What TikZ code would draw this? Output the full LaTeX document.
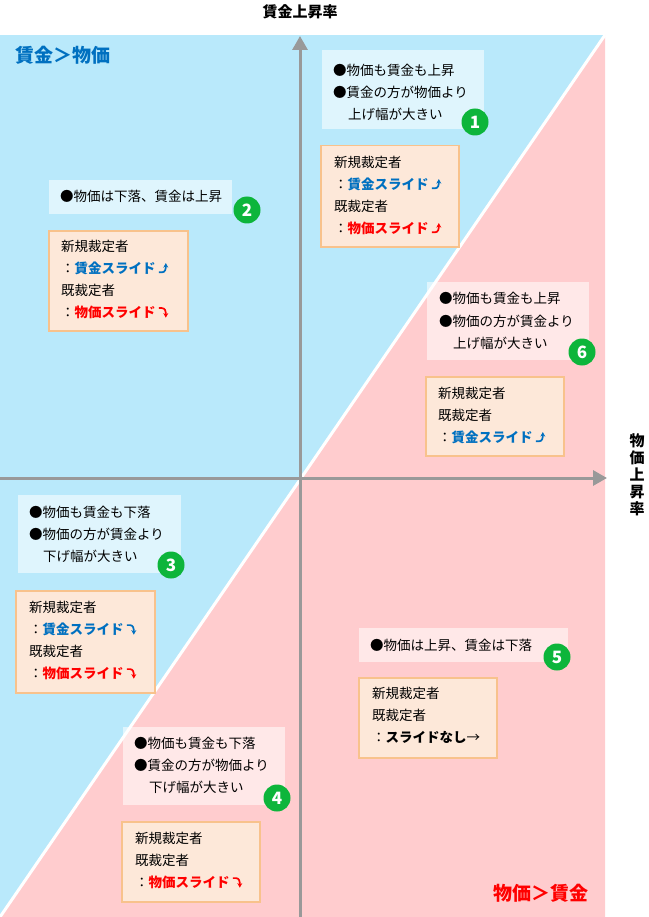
\documentclass[tikz,border=0pt]{standalone}
\usepackage{fontspec}
\setmainfont{Noto Sans CJK JP}
\usetikzlibrary{arrows.meta}
\definecolor{bgblue}{HTML}{B9E9FB}
\definecolor{bgpink}{HTML}{FFCCCE}
\definecolor{obox}{HTML}{FDE8D9}
\definecolor{oborder}{HTML}{F8C28C}
\definecolor{tblue}{HTML}{0070C0}
\definecolor{tred}{HTML}{FF0000}
\definecolor{gcirc}{HTML}{0DB53B}
\definecolor{axisg}{HTML}{999999}
\newcommand{\up}{\,\tikz[baseline=0pt,x=1pt,y=1pt]\draw[line width=1.7pt,-{Stealth[length=4.5pt,width=5pt]}] (0,0.8) -- (3,0.8) .. controls (6.5,0.8) and (7,4) .. (7,10);}
\newcommand{\dn}{\,\tikz[baseline=0pt,x=1pt,y=1pt]\draw[line width=1.7pt,-{Stealth[length=4.5pt,width=5pt]}] (0,9) -- (3,9) .. controls (6.5,9) and (7,6) .. (7,-0.5);}
\newcommand{\bl}[1]{\textcolor{tblue}{\textbf{#1}}}
\newcommand{\rd}[1]{\textcolor{tred}{\textbf{#1}}}
\tikzset{
 txtbox/.style={fill=white,fill opacity=0.55,inner sep=0,anchor=north west},
 obx/.style={fill=obox,draw=oborder,line width=1.5pt,inner sep=0,anchor=north west},
 ln/.style={anchor=west,inner sep=0,font=\fontsize{13.5}{13.5}\selectfont},
 num/.style={circle,fill=gcirc,text=white,inner sep=0,minimum size=27,font=\fontsize{17}{17}\selectfont\bfseries},
 axis/.style={draw=axisg,line width=3pt,-{Triangle[length=14pt,width=15pt]}}
}
\begin{document}
\begin{tikzpicture}[x=1pt,y=-1pt]
\useasboundingbox (0,0) rectangle (648,917);
\fill[bgblue] (0,35) rectangle (605,917);
\fill[bgpink] (605,35) -- (605,917) -- (0,917) -- cycle;
\draw[white,line width=3pt] (605,35) -- (0,917);
% axes
\coordinate (yb) at (300,917); \coordinate (yt) at (300,36);
\coordinate (xl) at (0,478); \coordinate (xr) at (607,478);
\draw[axis] (yb) -- (yt);
\draw[axis] (xl) -- (xr);
\node[font=\fontsize{15}{15}\selectfont\bfseries] (ylab) at (300,12) {賃金上昇率};
\node[font=\fontsize{15}{17}\selectfont\bfseries,align=center] (xlab) at (637,475) {物\\価\\上\\昇\\率};
\node[font=\fontsize{19}{19}\selectfont\bfseries,text=tblue,anchor=west] (q1) at (12,55) {賃金＞物価};
\node[font=\fontsize{19}{19}\selectfont\bfseries,text=tred,anchor=east] (q2) at (592,893) {物価＞賃金};
% box 1
\node[txtbox,minimum width=162,minimum height=79] (b1) at (322,50) {};
\node[ln] (b1a) at (333,70) {●物価も賃金も上昇};
\node[ln] (b1b) at (333,92) {●賃金の方が物価より};
\node[ln] (b1c) at (348,114) {上げ幅が大きい};
\node[num] (n1) at (475,122) {1};
\node[obx,minimum width=138,minimum height=101] (o1) at (320,145) {};
\node[ln] (o1a) at (334,162) {新規裁定者};
\node[ln] (o1b) at (334,184) {：\bl{賃金スライド}\textcolor{tblue}{\up}};
\node[ln] (o1c) at (334,206) {既裁定者};
\node[ln] (o1d) at (334,228) {：\rd{物価スライド}\textcolor{tred}{\up}};
% box 2
\node[txtbox,minimum width=183,minimum height=34] (b2) at (49,180) {};
\node[ln] (b2a) at (60,196) {●物価は下落、賃金は上昇};
\node[num] (n2) at (247,210) {2};
\node[obx,minimum width=139,minimum height=100] (o2) at (48,230) {};
\node[ln] (o2a) at (61,246) {新規裁定者};
\node[ln] (o2b) at (61,268) {：\bl{賃金スライド}\textcolor{tblue}{\up}};
\node[ln] (o2c) at (61,290) {既裁定者};
\node[ln] (o2d) at (61,312) {：\rd{物価スライド}\textcolor{tred}{\dn}};
% box 6
\node[txtbox,minimum width=162,minimum height=78] (b6) at (427,282) {};
\node[ln] (b6a) at (439,298) {●物価も賃金も上昇};
\node[ln] (b6b) at (439,321) {●物価の方が賃金より};
\node[ln] (b6c) at (453,343) {上げ幅が大きい};
\node[num] (n6) at (582,352) {6};
\node[obx,minimum width=138,minimum height=79] (o6) at (425,376) {};
\node[ln] (o6a) at (438,393) {新規裁定者};
\node[ln] (o6b) at (438,415) {既裁定者};
\node[ln] (o6c) at (438,437) {：\bl{賃金スライド}\textcolor{tblue}{\up}};
% box 3
\node[txtbox,minimum width=163,minimum height=78] (b3) at (18,495) {};
\node[ln] (b3a) at (29,512) {●物価も賃金も下落};
\node[ln] (b3b) at (29,534) {●物価の方が賃金より};
\node[ln] (b3c) at (43,556) {下げ幅が大きい};
\node[num] (n3) at (171,565) {3};
\node[obx,minimum width=139,minimum height=102] (o3) at (15,590) {};
\node[ln] (o3a) at (29,607) {新規裁定者};
\node[ln] (o3b) at (29,629) {：\bl{賃金スライド}\textcolor{tblue}{\dn}};
\node[ln] (o3c) at (29,651) {既裁定者};
\node[ln] (o3d) at (29,673) {：\rd{物価スライド}\textcolor{tred}{\dn}};
% box 5
\node[txtbox,minimum width=209,minimum height=34] (b5) at (359,628) {};
\node[ln] (b5a) at (370,645) {●物価は上昇、賃金は下落};
\node[num] (n5) at (557,657) {5};
\node[obx,minimum width=138,minimum height=80] (o5) at (358,677) {};
\node[ln] (o5a) at (372,693) {新規裁定者};
\node[ln] (o5b) at (372,715) {既裁定者};
\node[ln] (o5c) at (372,737) {：\textbf{スライドなし}→};
% box 4
\node[txtbox,minimum width=162,minimum height=78] (b4) at (123,727) {};
\node[ln] (b4a) at (134,743) {●物価も賃金も下落};
\node[ln] (b4b) at (134,765) {●賃金の方が物価より};
\node[ln] (b4c) at (149,787) {下げ幅が大きい};
\node[num] (n4) at (277,798) {4};
\node[obx,minimum width=138,minimum height=80] (o4) at (121,821) {};
\node[ln] (o4a) at (135,838) {新規裁定者};
\node[ln] (o4b) at (135,860) {既裁定者};
\node[ln] (o4c) at (135,882) {：\rd{物価スライド}\textcolor{tred}{\dn}};
\end{tikzpicture}
\end{document}
